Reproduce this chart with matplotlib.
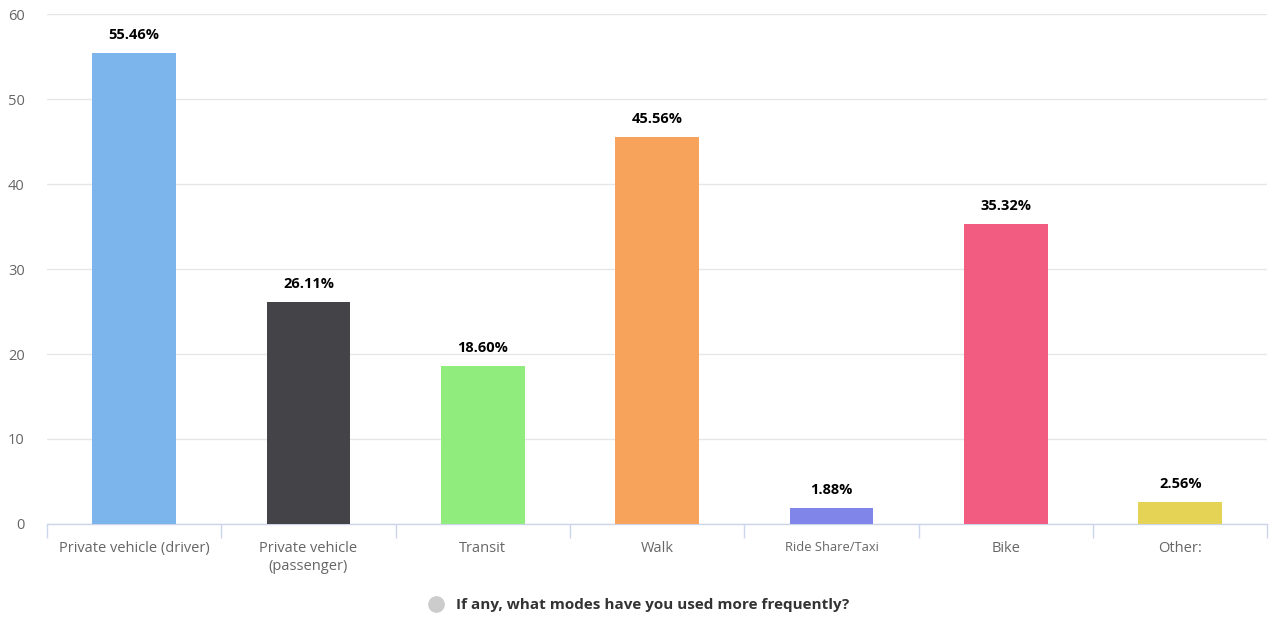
import numpy as np
import matplotlib.pyplot as plt
from matplotlib.lines import Line2D

# data
modes = ['Private vehicle (driver)', 'Private vehicle\n(passenger)', 'Transit', 'Walk',
         'Ride Share/Taxi', 'Bike', 'Other:']
shares = [55.46, 26.11, 18.60, 45.56, 1.88, 35.32, 2.56]
colors = ['#7cb5ec', '#434348', '#90ed7d', '#f7a35c', '#8085e9', '#f15c80', '#e4d354']
series_name = 'If any, what modes have you used more frequently?'

plt.rcParams['font.family'] = ['Open Sans', 'DejaVu Sans']

fig = plt.figure(figsize=(12.7, 6.2), dpi=100)
ax = fig.add_axes([0.037, 0.155, 0.961, 0.822])

x = np.arange(len(modes))
bars = ax.bar(x, shares, width=0.48, color=colors, zorder=3)

for xi, v in zip(x, shares):
    ax.text(xi, v + 1.3, f'{v:.2f}%', ha='center', va='bottom', fontsize=10.5,
            fontweight='bold', color='#000000')

ax.set_xlim(-0.5, len(modes) - 0.5)
ax.set_ylim(0, 60)
ax.set_yticks(range(0, 61, 10))
ax.grid(axis='y', color='#e6e6e6', linewidth=1, zorder=0)

ax.set_xticks(x)
ax.set_xticklabels(modes, fontsize=10.5, color='#666666', linespacing=1.3)
for lbl in ax.get_xticklabels():
    if lbl.get_text() == 'Ride Share/Taxi':
        lbl.set_fontsize(9.3)
ax.tick_params(axis='x', which='major', length=0, pad=12)
ax.set_xticks(np.arange(-0.5, len(modes)), minor=True)
ax.tick_params(axis='x', which='minor', length=10, color='#ccd6eb', width=1)
ax.tick_params(axis='y', length=0, labelsize=10.5, labelcolor='#666666', pad=16)

for side in ['top', 'right', 'left']:
    ax.spines[side].set_visible(False)
ax.spines['bottom'].set_color('#ccd6eb')
ax.spines['bottom'].set_linewidth(1)

handle = Line2D([], [], marker='o', linestyle='none', markersize=11,
                markerfacecolor='#cccccc', markeredgecolor='#cccccc')
fig.legend([handle], [series_name], loc='center', bbox_to_anchor=(0.5, 0.024),
           frameon=False, handletextpad=0.3,
           prop={'size': 11, 'weight': 'bold'}, labelcolor='#333333')

fig.savefig('out.png', dpi=100)
